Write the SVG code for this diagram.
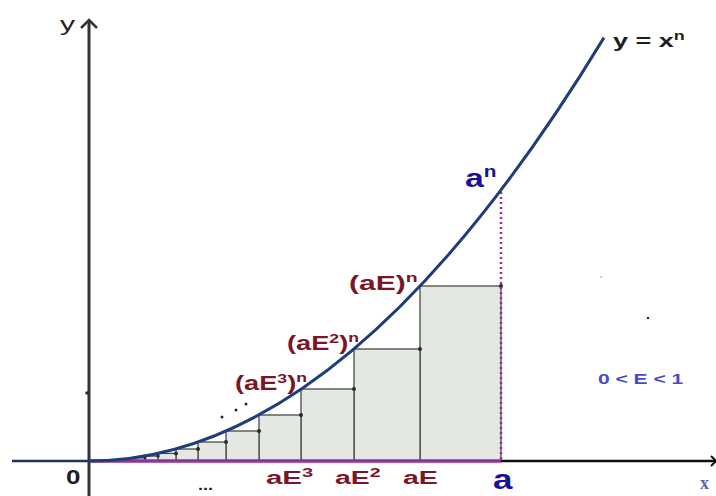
<svg xmlns="http://www.w3.org/2000/svg" width="716" height="496" viewBox="0 0 716 496">
<style>
.bar{fill:#e4e8e3;stroke:#4a4a4a;stroke-width:1.3}
.dot{fill:#2a2a2a}
.red{font-family:"Liberation Sans",Arial,sans-serif;font-weight:bold;fill:#7a1626}
.blue{font-family:"Liberation Sans",Arial,sans-serif;font-weight:bold;fill:#14149a}
.dark{font-family:"Liberation Sans",Arial,sans-serif;font-weight:bold;fill:#1e1e1e}
</style>
<rect width="716" height="496" fill="#ffffff"/>
<g id="bars">
<rect class="bar" x="420" y="286" width="81" height="175"/>
<rect class="bar" x="354" y="349" width="66" height="112"/>
<rect class="bar" x="301" y="389" width="53" height="72"/>
<rect class="bar" x="259" y="415" width="42" height="46"/>
<rect class="bar" x="226" y="431" width="33" height="30"/>
<rect class="bar" x="198" y="442" width="28" height="19"/>
<rect class="bar" x="176" y="449" width="22" height="12"/>
<rect class="bar" x="158" y="453.4" width="18" height="7.6"/>
<rect class="bar" x="145" y="456" width="13" height="5"/>
<rect class="bar" x="134" y="457.8" width="11" height="3.2"/>
</g>
<g id="dots">
<circle class="dot" cx="501" cy="286" r="2"/>
<circle class="dot" cx="420" cy="349" r="2"/>
<circle class="dot" cx="354" cy="389" r="2"/>
<circle class="dot" cx="301" cy="415" r="2"/>
<circle class="dot" cx="259" cy="431" r="2"/>
<circle class="dot" cx="226" cy="442" r="2"/>
<circle class="dot" cx="198" cy="449" r="2"/>
<circle class="dot" cx="176" cy="453.4" r="2"/>
<circle class="dot" cx="158" cy="456" r="1.8"/>
<circle class="dot" cx="145" cy="457.8" r="1.6"/>
<circle class="dot" cx="222" cy="417" r="1.5"/>
<circle class="dot" cx="236" cy="410" r="1.5"/>
<circle class="dot" cx="246" cy="404" r="1.5"/>
<circle class="dot" cx="87" cy="393" r="1.8"/>
<circle cx="648" cy="318" r="1.3" fill="#333"/>
<circle cx="601" cy="277" r="1" fill="#bbb"/>
</g>
<g id="connectors">
<line x1="89" y1="496" x2="89" y2="21" stroke="#333" stroke-width="3"/>
<polyline points="81,28 89,20 97,28" fill="none" stroke="#333" stroke-width="2.5"/>
<line x1="12" y1="461" x2="89" y2="461" stroke="#23305e" stroke-width="2.5"/>
<line x1="501" y1="461" x2="716" y2="461" stroke="#111" stroke-width="2.5"/>
<polyline points="711,456 716,461 711,466" fill="none" stroke="#111" stroke-width="2"/>
<line x1="89" y1="461" x2="501" y2="461" stroke="#93309a" stroke-width="3.5"/>
<line x1="501" y1="192" x2="501" y2="461" stroke="#93309a" stroke-width="2.5" stroke-dasharray="2 3"/>
<path d="M89,461 Q346.5,461 604,37.6" fill="none" stroke="#1f3d7a" stroke-width="3"/>
</g>
<g id="labels">
<text transform="translate(60,31) scale(1.5,1)" font-family="Liberation Sans,Arial,sans-serif" font-size="20" fill="#222">y</text>
<text transform="translate(613,47) scale(1.5,1)" class="dark" font-size="18">y = x<tspan font-size="12" dy="-7">n</tspan></text>
<text transform="translate(465,187) scale(1.3,1)" class="blue" font-size="26">a<tspan font-size="16" dy="-10">n</tspan></text>
<text transform="translate(349,290) scale(1.5,1)" class="red" font-size="20">(aE)<tspan font-size="13" dy="-8">n</tspan></text>
<text transform="translate(287,350) scale(1.36,1)" class="red" font-size="20">(aE<tspan font-size="13" dy="-7">2</tspan><tspan dy="7">)</tspan><tspan font-size="13" dy="-8">n</tspan></text>
<text transform="translate(235,390) scale(1.36,1)" class="red" font-size="20">(aE<tspan font-size="13" dy="-7">3</tspan><tspan dy="7">)</tspan><tspan font-size="13" dy="-8">n</tspan></text>
<text transform="translate(66,484) scale(1.3,1)" class="dark" font-size="20">0</text>
<text transform="translate(198,490) scale(1.3,1)" class="dark" font-size="14">...</text>
<text transform="translate(266,484) scale(1.55,1)" class="red" font-size="19">aE<tspan font-size="13" dy="-7">3</tspan></text>
<text transform="translate(335,484) scale(1.5,1)" class="red" font-size="19">aE<tspan font-size="13" dy="-7">2</tspan></text>
<text transform="translate(403,484) scale(1.5,1)" class="red" font-size="19">aE</text>
<text transform="translate(493,489) scale(1.25,1)" class="blue" font-size="28">a</text>
<text transform="translate(598,384) scale(1.5,1)" font-family="Liberation Sans,Arial,sans-serif" font-weight="bold" font-size="14" fill="#4a4ac8">0 &lt; E &lt; 1</text>
<text x="700" y="489" font-family="Liberation Serif,serif" font-weight="bold" font-size="18" fill="#5a6a9c">x</text>
</g>
</svg>
